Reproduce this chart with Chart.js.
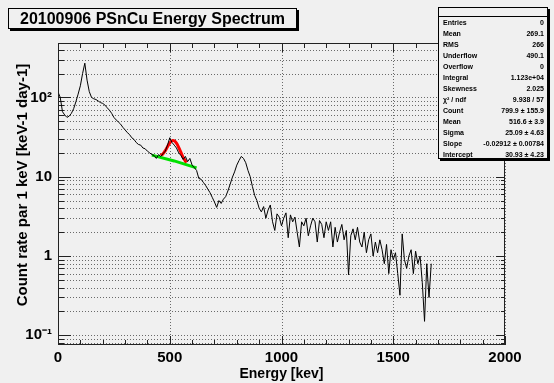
<!DOCTYPE html>
<html>
<head>
<meta charset="utf-8">
<script src="https://cdn.jsdelivr.net/npm/chart.js@4.4.1/dist/chart.umd.min.js"></script>
<style>
  html, body { margin: 0; padding: 0; background: #f0f0f0; }
  #wrap { position: relative; width: 554px; height: 383px; overflow: hidden;
          font-family: 'Liberation Sans', Arial, sans-serif; color: #000; }
  #chart { position: absolute; left: 0; top: 0; }
  .title-box { position: absolute; left: 8px; top: 8px; width: 289px; height: 21px; box-sizing: border-box;
               border: 1px solid #000; box-shadow: 2px 2px 0 #000; background: #f0f0f0;
               font-weight: bold; font-size: 16px; line-height: 19px; padding-left: 11px; white-space: nowrap; }
  .stats { position: absolute; left: 438px; top: 7px; width: 110px; height: 152px; box-sizing: border-box;
           border: 1px solid #000; box-shadow: 2px 2px 0 #000; background: #f0f0f0;
           font-weight: bold; font-size: 7px; }
  .stats .head { height: 8px; border-bottom: 1px solid #000; }
  .stats .row { display: flex; justify-content: space-between; height: 11px; line-height: 11px;
                padding: 0 3px 0 4px; white-space: nowrap; }
  .axis-title { position: absolute; font-weight: bold; white-space: nowrap; text-align: center; }
  #xTitle { left: 58px; width: 447px; top: 364px; font-size: 14px; line-height: 18px; }
  #yTitle { left: -128px; width: 300px; top: 176px; font-size: 15px; line-height: 18px; transform: rotate(-90deg); }
</style>
</head>
<body>
<div id="wrap">
  <canvas id="chart" width="554" height="383"></canvas>
  <div class="title-box">20100906 PSnCu Energy Spectrum</div>
  <div class="stats" id="stats"><div class="head"></div></div>
  <div class="axis-title" id="xTitle">Energy [kev]</div>
  <div class="axis-title" id="yTitle">Count rate par 1 keV [keV-1 day-1]</div>
</div>
<script>
/* ── Histogram: count rate per 10 keV bin, starting at 0 keV ── */
const BIN_WIDTH = 10;
const counts = [
  117, 100, 66, 60, 56, 58, 63, 72, 88, 110,          // 0 - 90
  140, 200, 270, 165, 118, 100, 96, 94, 90, 86,       // 100 - 190
  84, 80, 74, 69, 63, 56, 52, 49, 46, 42,             // 200 - 290
  39, 36, 34, 31, 29.5, 27, 25.5, 25, 23, 22.5,       // 300 - 390
  21, 20, 19, 18.5, 17, 19, 18, 19.5, 21, 25,         // 400 - 490
  31, 27, 25, 23, 20, 18.5, 16.5, 18, 15.5, 17,       // 500 - 590
  14, 13, 12, 9.5, 9.3, 8.5, 7.8, 7, 6.3, 5.5,        // 600 - 690
  4.8, 4.1, 5.0, 4.6, 5.2, 5.6, 6.6, 8, 9.8, 11.5,    // 700 - 790
  14, 16, 18, 17, 15, 12, 10, 7.5, 5.8, 5.0,          // 800 - 890
  4.0, 3.6, 4.2, 3.0, 3.8, 4.4, 2.7, 2.1, 3.4, 3.1,   // 900 - 990
  2.4, 3.0, 3.5, 1.7, 3.3, 2.7, 3.1, 2.0, 1.3, 2.7,   // 1000 - 1090
  2.4, 3.0, 1.8, 2.4, 3.0, 2.7, 1.5, 2.8, 2.5, 1.7,   // 1100 - 1190
  2.7, 2.1, 2.7, 1.3, 2.3, 1.5, 2.0, 2.5, 1.6, 2.1,   // 1200 - 1290
  0.58, 1.8, 2.2, 1.6, 2.3, 1.5, 1.3, 2.0, 1.1, 1.6,  // 1300 - 1390
  1.9, 1.0, 1.5, 1.1, 1.6, 1.2, 0.8, 1.4, 0.6, 1.2,   // 1400 - 1490
  0.9, 1.1, 0.6, 0.32, 1.9, 0.9, 0.7, 1.0, 1.2, 0.6,  // 1500 - 1590
  1.15, 0.8, 1.0, 0.46, 0.15, 0.8, 0.3, 0.8, 0        // 1600 - 1680
];

/* ── Fits: gaus + pol1 (red), pol1 background (green) ── */
const fitGausE = [460, 470, 480, 490, 500, 510, 520, 530, 540, 550, 560, 570, 575];
const fitGausV = [18.5, 19.5, 21.3, 23.9, 26.6, 28.4, 28.4, 26.5, 23.4, 20.2, 17.5, 15.7, 15.0];
const fitLinE  = [420, 520, 620];
const fitLinV  = [18.7, 15.8, 12.9];

/* ── Axes ── */
const X_MIN = 0, X_MAX = 2000;
const Y_MIN = 0.0755, Y_MAX = 485;
const xTicks = [0, 500, 1000, 1500, 2000];
const yTicks = [0.1, 1, 10, 100];
const yTickLabels = ['10⁻¹', '1', '10', '10²'];

/* ── Stats box ── */
const statNames  = ['Entries', 'Mean', 'RMS', 'Underflow', 'Overflow', 'Integral', 'Skewness',
                    'χ² / ndf', 'Count', 'Mean', 'Sigma', 'Slope', 'Intercept'];
const statValues = ['0', '269.1', '266', '490.1', '0', '1.123e+04', '2.025',
                    '9.938 / 57', '799.9 ± 155.9', '516.6 ± 3.9', '25.09 ± 4.63',
                    '-0.02912 ± 0.00784', '30.93 ± 4.23'];

const statsEl = document.getElementById('stats');
statNames.forEach((n, i) => {
  const row = document.createElement('div');
  row.className = 'row';
  row.innerHTML = `<span>${n}</span><span>${statValues[i]}</span>`;
  statsEl.appendChild(row);
});

/* ── ROOT-like frame: dotted grid, inner ticks, box ── */
const rootFrame = {
  id: 'rootFrame',
  beforeDatasetsDraw(chart) {
    const { ctx, chartArea: a, scales: { x, y } } = chart;
    const line = (x1, y1, x2, y2) => { ctx.beginPath(); ctx.moveTo(x1, y1); ctx.lineTo(x2, y2); ctx.stroke(); };

    // minor values of the log axis
    const yMinor = [];
    [0.01, 0.1, 1, 10, 100].forEach(d => {
      for (let k = 1; k <= 9; k++) {
        const v = k * d;
        if (v >= Y_MIN && v <= Y_MAX) yMinor.push(v);
      }
    });

    ctx.save();
    ctx.lineWidth = 1;
    ctx.strokeStyle = '#6a6a6a';
    ctx.setLineDash([1, 2]);
    yMinor.forEach(v => {
      const py = Math.round(y.getPixelForValue(v)) + 0.5;
      line(a.left, py, a.right, py);
    });
    xTicks.forEach(v => {
      const px = Math.round(x.getPixelForValue(v)) + 0.5;
      line(px, a.top, px, a.bottom);
    });
    ctx.setLineDash([]);

    // ticks
    ctx.strokeStyle = '#222';
    yMinor.forEach(v => {
      const py = Math.round(y.getPixelForValue(v)) + 0.5;
      const major = yTicks.includes(v);
      line(a.left, py, a.left + (major ? 13 : 6), py);
      line(a.right, py, a.right - (major ? 9 : 4), py);
    });
    for (let v = X_MIN; v <= X_MAX; v += 100) {
      const px = Math.round(x.getPixelForValue(v)) + 0.5;
      const major = v % 500 === 0;
      line(px, a.bottom, px, a.bottom - (major ? 9 : 5));
      line(px, a.top, px, a.top + (major ? 9 : 5));
    }
    ctx.restore();
  },
  afterDatasetsDraw(chart) {
    const { ctx, chartArea: a } = chart;
    ctx.save();
    ctx.strokeStyle = '#222';
    ctx.lineWidth = 1;
    ctx.strokeRect(Math.round(a.left) + 0.5, Math.round(a.top) + 0.5,
                   Math.round(a.width) - 1, Math.round(a.height) - 1);
    ctx.restore();
  }
};

Chart.defaults.font.family = "'Liberation Sans', Arial, sans-serif";
Chart.defaults.color = '#000';

new Chart(document.getElementById('chart'), {
  type: 'line',
  data: {
    datasets: [
      {
        label: 'spectrum',
        data: counts.map((c, i) => ({ x: i * BIN_WIDTH, y: c })),
        borderColor: '#000',
        borderWidth: 1,
        pointRadius: 0,
        tension: 0
      },
      {
        label: 'pol1',
        data: fitLinE.map((e, i) => ({ x: e, y: fitLinV[i] })),
        borderColor: '#00e000',
        borderWidth: 3,
        pointRadius: 0,
        tension: 0
      },
      {
        label: 'gaus+pol1',
        data: fitGausE.map((e, i) => ({ x: e, y: fitGausV[i] })),
        borderColor: '#ff0000',
        borderWidth: 3,
        pointRadius: 0,
        tension: 0.3
      }
    ]
  },
  options: {
    responsive: false,
    animation: false,
    events: [],
    layout: { padding: { top: 43, right: 49, left: 0, bottom: 0 } },
    plugins: { legend: { display: false }, tooltip: { enabled: false } },
    scales: {
      x: {
        type: 'linear',
        min: X_MIN,
        max: X_MAX,
        afterBuildTicks: s => { s.ticks = xTicks.map(v => ({ value: v })); },
        afterFit: s => { s.height = 38; },
        grid: { display: false, drawTicks: false },
        border: { display: false },
        ticks: {
          autoSkip: false,
          maxRotation: 0,
          padding: 4,
          font: { size: 15, weight: 'bold' },
          callback: v => String(v)
        }
      },
      y: {
        type: 'logarithmic',
        min: Y_MIN,
        max: Y_MAX,
        afterBuildTicks: s => { s.ticks = yTicks.map(v => ({ value: v, major: true })); },
        afterFit: s => { s.width = 58; },
        grid: { display: false, drawTicks: false },
        border: { display: false },
        ticks: {
          autoSkip: false,
          padding: 6,
          font: { size: 15, weight: 'bold' },
          callback: (v, i) => yTickLabels[i]
        }
      }
    }
  },
  plugins: [rootFrame]
});
</script>
</body>
</html>
